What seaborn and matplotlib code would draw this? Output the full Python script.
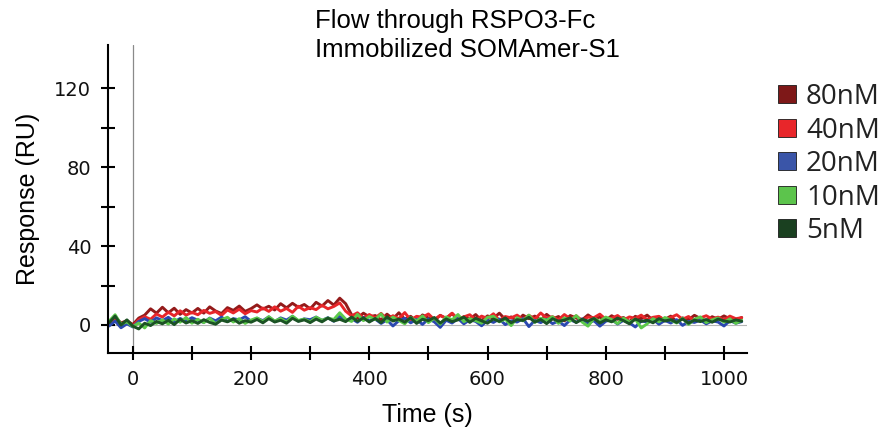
import numpy as np
import pandas as pd
import matplotlib
matplotlib.use("Agg")
import matplotlib.pyplot as plt
from matplotlib.lines import Line2D
import seaborn as sns

# time axis, one reading every 10 s
time_s = np.arange(-40, 1040, 10)

conc_labels = ["80nM", "40nM", "20nM", "10nM", "5nM"]
conc_colors = ["#941a1a", "#e8262a", "#2b48b0", "#5cc94a", "#1b5224"]
legend_colors = ["#7e1818", "#e8262a", "#3a55a8", "#5cc44c", "#1a4020"]

x_ticks = [0, 200, 400, 600, 800, 1000]
y_ticks = [0, 40, 80, 120]

resp_80 = [0.5, 4.0, 1.0, 2.2,
           0.2, 3.5, 5.0, 8.2, 6.0,
           9.0, 6.2, 8.5, 5.4, 7.8, 6.1,
           8.4, 6.0, 9.2, 7.1, 5.8, 8.8, 7.4, 9.6, 6.9, 8.3,
           10.2, 8.1, 9.5, 7.6, 10.8, 8.7, 11.0, 9.0, 10.4, 8.2,
           11.5, 9.6, 12.4, 10.1, 13.6, 10.8,
           5.2, 3.4, 6.0, 4.1,
           4.8, 2.6, 5.5, 3.1, 6.2, 2.9, 4.4, 1.8, 5.1, 3.6,
           2.4, 4.9, 3.3, 5.8, 2.7, 4.2, 3.0, 5.3, 2.2, 4.6,
           3.4, 6.0, 2.8, 4.1, 1.9, 5.0, 3.2, 4.5, 2.5, 5.4,
           3.0, 4.3, 2.1, 4.8, 3.5, 2.6, 5.1, 3.1, 4.0, 2.3,
           4.7, 2.9, 3.8, 1.7, 4.4, 3.2, 5.0, 2.4, 3.9, 2.8,
           4.5, 1.6, 3.6, 2.7, 4.9, 3.3, 2.0, 4.2, 2.9, 4.6,
           3.1, 2.5, 3.8]

resp_40 = [1.5, 2.8, 0.0, 1.8,
           -0.6, 2.6, 4.2, 2.9, 5.6,
           4.0, 6.5, 4.6, 7.2, 5.0, 6.4,
           5.2, 7.4, 5.9, 6.8, 4.9, 7.6, 6.1, 8.0, 5.7, 7.3,
           6.6, 8.6, 6.9, 9.2, 7.0, 8.4, 6.4, 9.5, 7.5, 8.8,
           7.8, 10.0, 8.2, 9.4, 11.2, 7.0,
           4.6, 6.2, 3.5, 5.3,
           3.6, 5.9, 2.8, 4.7, 3.2, 6.3, 2.5, 4.4, 3.9, 5.6,
           2.7, 4.8, 3.4, 6.0, 2.9, 4.1, 5.2, 2.6, 4.5, 3.3,
           5.7, 2.4, 4.3, 3.6, 5.0, 2.8, 4.9, 3.0, 6.1, 3.5,
           4.2, 2.6, 5.3, 3.1, 4.6, 2.3, 4.0, 3.7, 5.5, 2.9,
           3.4, 4.8, 2.5, 4.1, 3.3, 5.0, 2.7, 3.9, 4.4, 2.4,
           3.8, 5.2, 2.9, 4.3, 2.2, 3.6, 4.7, 3.0, 4.0, 2.6,
           4.5, 3.2, 3.7]

resp_20 = [-0.5, 2.0, -1.4, 0.6,
           -1.0, 1.8, 3.2, 1.4, 3.6,
           2.2, 3.9, 1.6, 3.3, 2.0, 3.7,
           2.4, 1.3, 3.5, 2.1, 4.0, 1.8, 3.2, 2.6, 4.2, 1.9,
           3.4, 2.2, 4.1, 1.7, 3.6, 2.5, 4.4, 2.0, 3.1, 2.7,
           4.0, 2.3, 3.7, 1.9, 4.3, 2.6,
           3.2, 1.4, 3.8, 2.1,
           3.0, 0.8, 2.6, -0.5, 2.2, 3.4, 1.1, 2.8, 0.3, 3.1,
           1.6, -1.2, 2.4, 1.0, 3.3, 0.6, 2.7, 1.8, -0.4, 2.5,
           1.3, 3.0, 0.2, 2.1, 1.5, 3.2, -0.8, 2.3, 1.2, 2.9,
           0.7, 2.0, -0.3, 2.6, 1.4, 3.1, 0.9, 2.2, -0.6, 1.9,
           2.8, 0.5, 2.4, 1.1, -1.0, 2.0, 1.6, 2.9, 0.4, 2.3,
           1.0, 2.7, -0.2, 1.8, 1.3, 2.5, 0.6, 2.1, 1.5, -0.5,
           2.2, 0.9, 1.7]

resp_10 = [2.0, 5.2, 0.4, 1.6,
           -0.8, 1.0, -1.5, 2.2, 0.8,
           2.6, 0.5, 3.1, 1.4, 3.8, 0.9,
           2.9, 1.2, 3.4, 0.6, 2.7, 3.9, 1.5, 3.2, 0.8, 2.5,
           3.6, 1.7, 4.2, 2.0, 3.3, 1.4, 4.5, 2.3, 3.0, 1.6,
           4.0, 2.4, 3.5, 2.8, 6.2, 3.0,
           1.8, 5.4, 2.2, 4.3,
           2.7, 5.6, 1.5, 4.0, 2.3, 0.6, 3.8, 1.9, 4.6, 1.2,
           3.5, 0.4, 4.1, 2.6, 5.3, 1.7, 3.2, 2.2, 0.9, 3.9,
           4.4, 1.6, 3.0, -0.3, 3.7, 2.1, 5.0, 1.3, 3.4, 2.4,
           4.2, 0.8, 3.6, 2.0, 4.8, 1.5, -0.6, 3.3, 1.9, 4.0,
           2.8, 0.7, 3.5, 1.4, 3.0, -1.5, 0.6, 3.2, 1.6, 3.8,
           2.5, 1.0, 3.4, 0.3, 2.9, 4.1, 1.2, 2.6, 3.5, 1.4,
           3.1, 0.8, 2.4]

resp_5 = [1.2, 4.5, 0.0, 2.6,
          -0.6, -2.0, 0.9, -0.3, 1.8,
          0.6, 2.4, 0.2, 2.9, 1.0, 2.2,
          0.8, 2.7, 1.3, 0.4, 2.5, 1.6, 3.0, 0.9, 2.2, 1.4,
          2.8, 1.1, 3.2, 1.5, 2.4, 0.9, 3.4, 1.8, 2.6, 1.2,
          3.0, 1.6, 3.5, 2.0, 2.9, 1.7,
          4.0, 1.9, 3.6, 1.5,
          3.3, 1.2, 4.1, 2.0, 3.0, 1.4, 3.7, 0.8, 2.9, 2.2,
          3.8, 1.0, 3.1, 1.7, 2.6, 4.0, 1.3, 3.4, 2.1, 0.9,
          3.0, 1.8, 3.6, 1.1, 2.7, 2.3, 3.9, 1.5, 2.8, 0.7,
          3.2, 1.9, 2.5, 3.6, 1.2, 2.9, 2.0, 3.3, 1.0, 2.6,
          1.6, 3.5, 2.2, 0.6, 3.0, 1.8, 2.4, 1.1, 3.2, 2.0,
          2.7, 1.3, 3.1, 0.9, 2.5, 1.7, 2.8, 1.4, 3.0, 2.1,
          1.5, 2.6, 1.9]

responses = [resp_80, resp_40, resp_20, resp_10, resp_5]

df = pd.concat([
    pd.DataFrame({"time": time_s, "resp": r, "conc": lab})
    for lab, r in zip(conc_labels, responses)
])

sns.set_style("white")
# tick numbers in a Verdana-like face, titles in an Arial-like face
plt.rcParams["font.family"] = ["DejaVu Sans"]
arial = ["Liberation Sans", "DejaVu Sans"]

fig = plt.figure(figsize=(8.89, 4.36), dpi=100)
ax = fig.add_axes([0.1215, 0.1904, 0.7188, 0.7064])

ax.axhline(0, color="#b5b5b5", lw=0.8, zorder=0)
ax.axvline(0, color="#8a8a8a", lw=0.9, zorder=0)

sns.lineplot(data=df, x="time", y="resp", hue="conc", hue_order=conc_labels,
             palette=conc_colors, lw=2.1, legend=False, ax=ax)

ax.set_xlim(-42, 1039)
ax.set_ylim(-14.2, 142)
ax.set_xticks(x_ticks)
ax.set_yticks(y_ticks)
ax.set_xticks(np.arange(0, 1001, 100), minor=True)
ax.set_yticks([20, 60, 100], minor=True)

for s in ["top", "right"]:
    ax.spines[s].set_visible(False)
for s in ["left", "bottom"]:
    ax.spines[s].set_color("black")
    ax.spines[s].set_linewidth(1.5)

ax.tick_params(which="both", bottom=True, left=True, direction="inout",
               length=10, width=1.5, color="black")
ax.tick_params(which="major", pad=7, labelsize=14, labelcolor="#111111")

ax.set_xlabel("Time (s)", fontsize=18, color="black", labelpad=10, family=arial)
ax.set_ylabel("Response (RU)", fontsize=18, color="black", labelpad=10, family=arial)

fig.text(315 / 889, 1 - 9 / 436, "Flow through RSPO3-Fc\nImmobilized SOMAmer-S1",
         ha="left", va="top", fontsize=18.5, linespacing=1.25, color="black",
         family=arial)

handles = [Line2D([], [], ls="none", marker="s", markersize=13,
                  markerfacecolor=c, markeredgecolor="#1a1a1a", markeredgewidth=0.6)
           for c in legend_colors]
fig.legend(handles, conc_labels, loc="upper left",
           bbox_to_anchor=(774 / 889, 1 - 83 / 436),
           frameon=False, prop={"family": "Open Sans", "size": 20},
           labelcolor="#222222", handletextpad=0.25, labelspacing=0.2,
           handlelength=0.9, borderpad=0, borderaxespad=0)

fig.savefig("out.png", dpi=100)
